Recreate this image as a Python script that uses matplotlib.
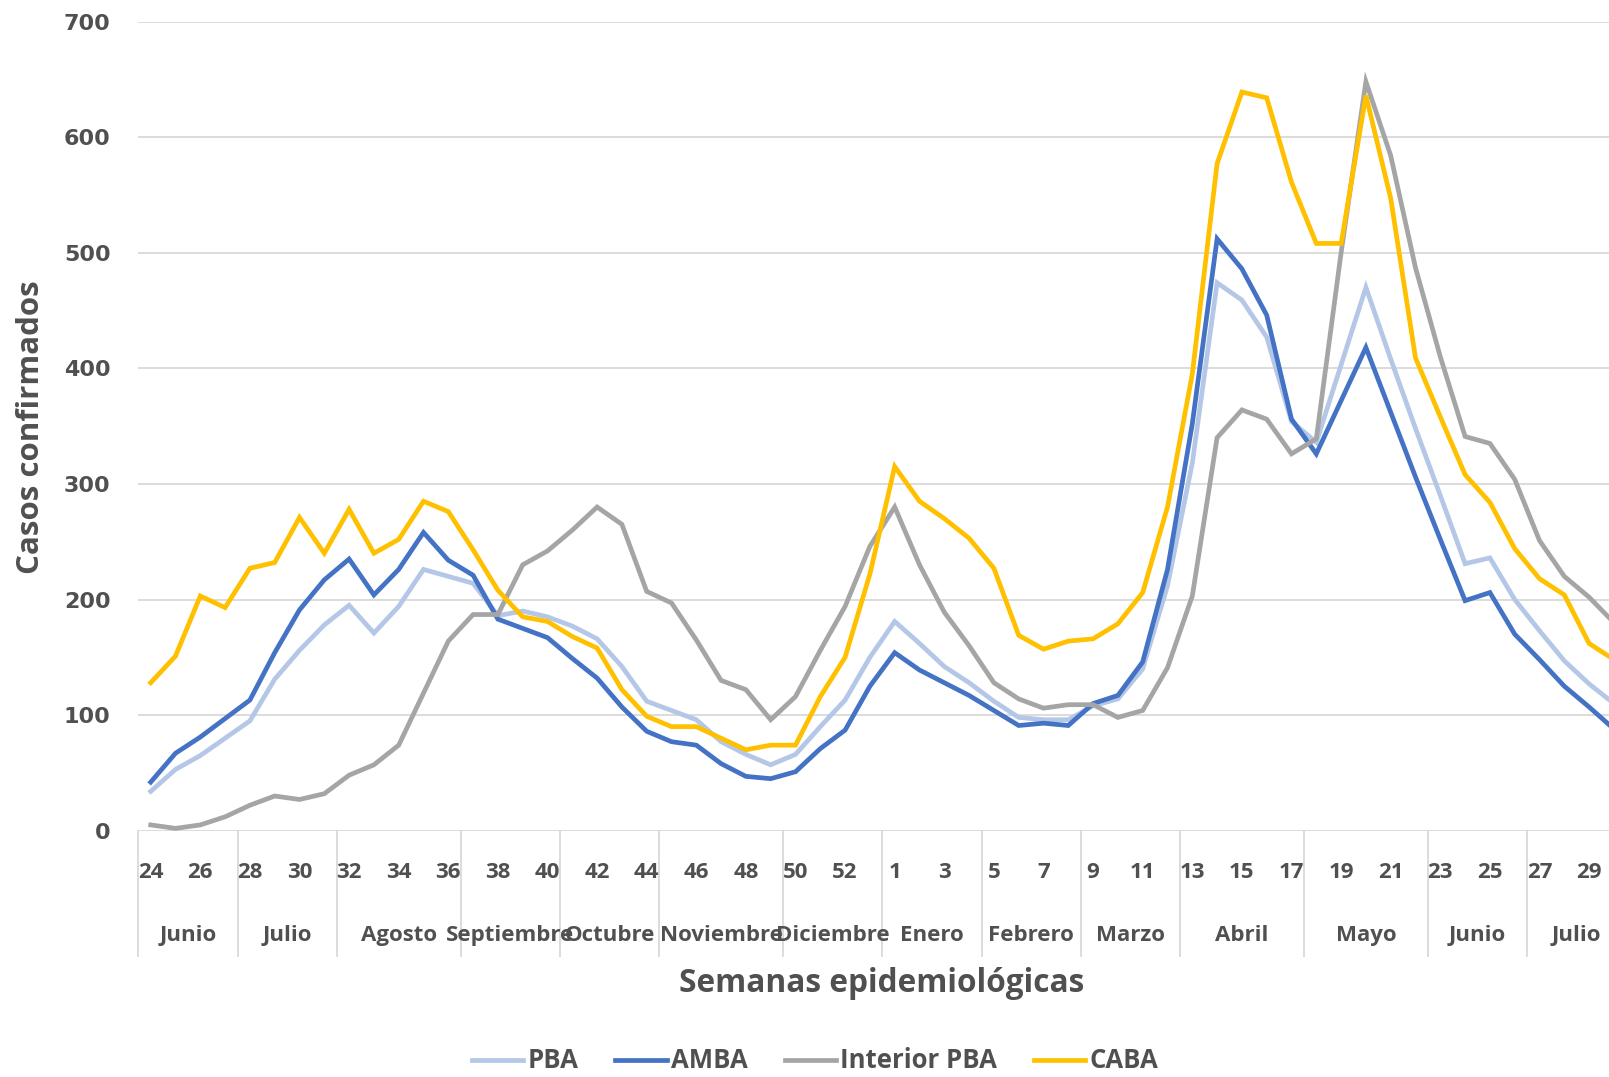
import numpy as np
import matplotlib
matplotlib.use("Agg")
import matplotlib.pyplot as plt

# semanas epidemiológicas (2020: 24-53, 2021: 1-30)
weeks = list(range(24, 54)) + list(range(1, 31))

month_names = ["Junio", "Julio", "Agosto", "Septiembre", "Octubre", "Noviembre",
               "Diciembre", "Enero", "Febrero", "Marzo", "Abril", "Mayo", "Junio", "Julio"]
month_weeks = [4, 4, 5, 4, 4, 5, 4, 4, 4, 4, 5, 5, 4, 4]

pba = [34, 53, 65, 80, 95, 131, 156, 178, 195, 171, 194, 226, 220, 214, 186,
       190, 185, 177, 166, 142, 112, 104, 96, 77, 66, 57, 66, 90, 113, 150,
       181, 162, 142, 128, 112, 98, 96, 96, 108, 114, 140, 212, 318, 474, 459,
       427, 354, 336, 403, 470, 408, 348, 290, 231, 236, 200, 173, 147, 127, 110]
amba = [42, 67, 81, 97, 113, 154, 191, 217, 235, 204, 226, 258, 234, 221, 183,
        175, 167, 149, 132, 107, 86, 77, 74, 58, 47, 45, 51, 71, 87, 125,
        154, 139, 128, 117, 104, 91, 93, 91, 110, 117, 146, 226, 352, 512, 486,
        446, 356, 326, 372, 418, 362, 306, 252, 199, 206, 170, 148, 125, 107, 88]
interior = [5, 2, 5, 12, 22, 30, 27, 32, 48, 57, 74, 119, 164, 187, 187,
            230, 242, 260, 280, 265, 207, 197, 165, 130, 122, 96, 116, 156, 194, 246,
            280, 230, 189, 160, 128, 114, 106, 109, 109, 98, 104, 141, 203, 340, 364,
            356, 326, 339, 500, 648, 584, 487, 410, 341, 335, 304, 251, 220, 202, 180]
caba = [128, 151, 203, 193, 227, 232, 271, 240, 278, 240, 252, 285, 276, 243, 208,
        185, 181, 168, 158, 122, 99, 90, 90, 80, 70, 74, 74, 116, 150, 222,
        315, 285, 270, 253, 227, 169, 157, 164, 166, 179, 206, 280, 395, 577, 639,
        634, 561, 508, 508, 636, 547, 409, 358, 308, 284, 244, 218, 204, 162, 148]

series = [("PBA", pba, "#b4c7e7"), ("AMBA", amba, "#4472c4"),
          ("Interior PBA", interior, "#a5a5a5"), ("CABA", caba, "#ffc000")]

txt = "#505050"
grid_c = "#d9d9d9"
lab_font = ["Open Sans", "DejaVu Sans"]

fig = plt.figure(figsize=(16.09, 10.77), dpi=100)
ax = fig.add_axes([138.3 / 1609, 1 - 830.7 / 1077, 60 * 24.8 / 1609, (830.7 - 21.5) / 1077])

x = np.arange(len(weeks))
for name, vals, col in series:
    ax.plot(x, vals, color=col, linewidth=3.4, label=name, solid_joinstyle="miter")

ax.set_xlim(-0.5, len(weeks) - 0.5)
ax.set_ylim(0, 700)
ax.set_yticks(range(0, 701, 100))
ax.yaxis.grid(True, color=grid_c, linewidth=1.3)
ax.set_axisbelow(True)
for s in ax.spines.values():
    s.set_visible(False)
ax.tick_params(axis="y", length=0, pad=20, labelsize=16, labelcolor=txt)
for t in ax.get_yticklabels():
    t.set_fontweight("bold")
ax.set_xticks([])

# etiquetas de semanas
for i, w in enumerate(weeks):
    if i % 2 == 0:
        ax.annotate(str(w), xy=(i, 0), xycoords=("data", "axes fraction"),
                    xytext=(0, -42), textcoords="offset pixels",
                    ha="center", va="center", fontsize=16, fontweight="bold",
                    color=txt, family=lab_font)

# meses y separadores
start = 0
bounds = [-0.5]
for name, n in zip(month_names, month_weeks):
    center = start + (n - 1) / 2
    ax.annotate(name, xy=(center, 0), xycoords=("data", "axes fraction"),
                xytext=(0, -105), textcoords="offset pixels",
                ha="center", va="center", fontsize=16, fontweight="bold",
                color=txt, family=lab_font)
    start += n
    bounds.append(start - 0.5)
for b in bounds:
    ax.plot([b, b], [0, -0.155], transform=ax.get_xaxis_transform(),
            color=grid_c, linewidth=1.3, clip_on=False)

fig.text(882 / 1609, 1 - 983 / 1077, "Semanas epidemiológicas", ha="center", va="center",
         fontsize=22.8, fontweight="bold", color=txt, family=lab_font)
fig.text(31 / 1609, 1 - 427 / 1077, "Casos confirmados", ha="center", va="center",
         rotation=90, fontsize=22.5, fontweight="bold", color=txt, family=lab_font)

leg = fig.legend(loc="center", bbox_to_anchor=(815 / 1609, 1 - 1061 / 1077), ncol=4,
                 frameon=False, handlelength=2.0, handletextpad=0.15, columnspacing=1.45,
                 borderpad=0.1, prop={"family": lab_font, "weight": "bold", "size": 18.5})
for t in leg.get_texts():
    t.set_color(txt)

fig.savefig("out.png", dpi=100, facecolor="white")
